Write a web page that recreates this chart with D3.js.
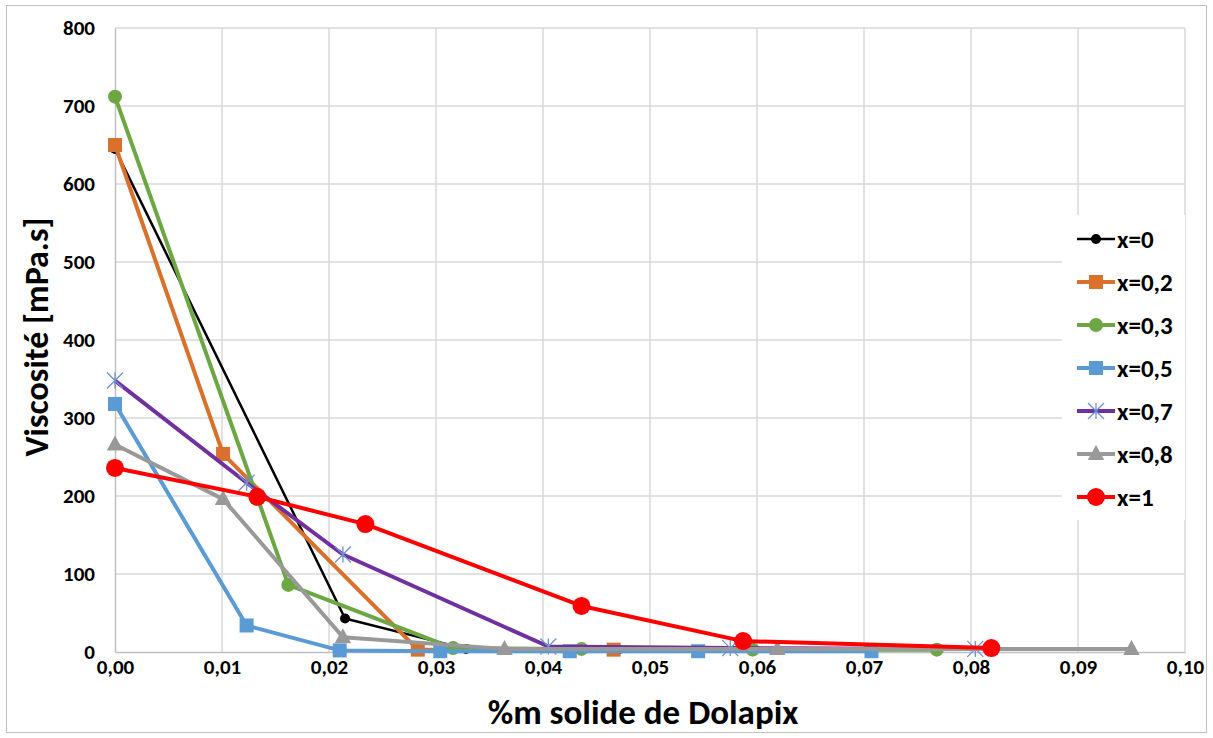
<!DOCTYPE html>
<html>
<head>
<meta charset="utf-8">
<script src="https://cdn.jsdelivr.net/npm/d3@7"></script>
<style>
  body { margin: 0; background: #fff; }
  text { font-family: Carlito, "Open Sans", "Liberation Sans", sans-serif; font-weight: bold; fill: #000; }
</style>
</head>
<body>
<script>
const width = 1213;
const height = 738;
const margin = { top: 28, right: 28, bottom: 86, left: 115 };

// data
const seriesNames = ["x=0", "x=0,2", "x=0,3", "x=0,5", "x=0,7", "x=0,8", "x=1"];
const xTicks = [0, 0.01, 0.02, 0.03, 0.04, 0.05, 0.06, 0.07, 0.08, 0.09, 0.10];
const yTicks = [0, 100, 200, 300, 400, 500, 600, 700, 800];

const dol0 = [0, 0.0215, 0.0328, 0.047];
const visc0 = [645, 43, 4, 3];
const dol02 = [0, 0.0101, 0.0283, 0.0466];
const visc02 = [650, 254, 3, 3];
const dol03 = [0, 0.0162, 0.0316, 0.0436, 0.0596, 0.0768];
const visc03 = [712, 86, 5, 4, 3, 3];
const dol05 = [0, 0.0123, 0.021, 0.0304, 0.0425, 0.0545, 0.0707];
const visc05 = [318, 34, 2, 1, 1, 1, 1];
const dol07 = [0, 0.0123, 0.0213, 0.0405, 0.0575, 0.0804];
const visc07 = [348, 217, 125, 7, 5, 4];
const dol08 = [0, 0.0101, 0.0213, 0.0364, 0.0619, 0.095];
const visc08 = [266, 196, 19, 4, 4, 4];
const dol1 = [0, 0.0133, 0.0234, 0.0436, 0.0587, 0.0819];
const visc1 = [236, 199, 164, 59, 14, 5];

const xs = [dol0, dol02, dol03, dol05, dol07, dol08, dol1];
const ys = [visc0, visc02, visc03, visc05, visc07, visc08, visc1];

const styles = [
  { color: "#000000", width: 2.5, marker: "circle", size: 5 },
  { color: "#D9702B", width: 4, marker: "square", size: 14 },
  { color: "#6DA744", width: 4, marker: "circle", size: 7 },
  { color: "#5B9BD5", width: 4, marker: "square", size: 14 },
  { color: "#7030A0", width: 4, marker: "star", size: 8, markerColor: "#6E8FD6" },
  { color: "#999999", width: 4, marker: "triangle", size: 15 },
  { color: "#FF0000", width: 4, marker: "circle", size: 9 }
];

const svg = d3.select("body")
    .append("svg")
    .attr("width", width)
    .attr("height", height);

// outer frame
svg.append("rect")
    .attr("x", 6.5).attr("y", 5.5)
    .attr("width", width - 13).attr("height", height - 11)
    .attr("fill", "none").attr("stroke", "#BFBFBF");

const xScale = d3.scaleLinear()
    .domain([0, 0.1])
    .range([margin.left, width - margin.right]);
const yScale = d3.scaleLinear()
    .domain([0, 800])
    .range([height - margin.bottom, margin.top]);

// grid
svg.append("g")
    .selectAll("line.vgrid")
    .data(xTicks.slice(1))
    .enter()
    .append("line")
    .attr("x1", d => xScale(d)).attr("x2", d => xScale(d))
    .attr("y1", yScale(0)).attr("y2", yScale(800))
    .attr("stroke", "#D9D9D9").attr("stroke-width", 1.5);
svg.append("g")
    .selectAll("line.hgrid")
    .data(yTicks.slice(1))
    .enter()
    .append("line")
    .attr("x1", xScale(0)).attr("x2", xScale(0.1))
    .attr("y1", d => yScale(d)).attr("y2", d => yScale(d))
    .attr("stroke", "#D9D9D9").attr("stroke-width", 1.5);

// axes
const fmt = d3.format(".2f");
const xAxis = d3.axisBottom(xScale).tickValues(xTicks).tickSize(0).tickPadding(7)
    .tickFormat(d => fmt(d).replace(".", ","));
const yAxis = d3.axisLeft(yScale).tickValues(yTicks).tickSize(0).tickPadding(20);

svg.append("g")
    .attr("transform", `translate(0, ${yScale(0)})`)
    .call(xAxis)
    .attr("font-size", 21)
    .attr("font-family", null)
    .call(g => g.select(".domain").attr("stroke", "#BFBFBF").attr("stroke-width", 1.5));
svg.append("g")
    .attr("transform", `translate(${xScale(0)}, 0)`)
    .call(yAxis)
    .attr("font-size", 21)
    .attr("font-family", null)
    .call(g => g.select(".domain").attr("stroke", "#BFBFBF").attr("stroke-width", 1.5));

// axis titles
svg.append("text")
    .attr("x", 643)
    .attr("y", 724)
    .attr("text-anchor", "middle")
    .style("font-size", "35px")
    .text("%m solide de Dolapix");
svg.append("text")
    .attr("transform", "translate(48, 337) rotate(-90)")
    .attr("text-anchor", "middle")
    .style("font-size", "34px")
    .text("Viscosité [mPa.s]");

// legend background
svg.append("rect")
    .attr("x", 1062).attr("y", 215)
    .attr("width", xScale(0.1) - 1062).attr("height", 305)
    .attr("fill", "#fff");

function drawMarker(g, st, x, y) {
  const c = st.markerColor || st.color;
  if (st.marker === "circle") {
    g.append("circle").attr("cx", x).attr("cy", y).attr("r", st.size).attr("fill", c);
  } else if (st.marker === "square") {
    g.append("rect").attr("x", x - st.size / 2).attr("y", y - st.size / 2)
      .attr("width", st.size).attr("height", st.size).attr("fill", c);
  } else if (st.marker === "triangle") {
    const s = st.size;
    g.append("path")
      .attr("d", `M${x},${y - s * 0.6}L${x + s * 0.55},${y + s * 0.4}L${x - s * 0.55},${y + s * 0.4}Z`)
      .attr("fill", c);
  } else if (st.marker === "star") {
    const s = st.size;
    g.append("path")
      .attr("d", `M${x - s},${y - s}L${x + s},${y + s}M${x - s},${y + s}L${x + s},${y - s}M${x},${y - s}L${x},${y + s}`)
      .attr("stroke", c).attr("stroke-width", 1.3).attr("fill", "none");
  }
}

const line = d3.line().x(d => xScale(d[0])).y(d => yScale(d[1]));

seriesNames.forEach((name, i) => {
  const st = styles[i];
  const pts = xs[i].map((x, j) => [x, ys[i][j]]);
  const g = svg.append("g");
  g.append("path")
    .datum(pts)
    .attr("d", line)
    .attr("fill", "none")
    .attr("stroke", st.color)
    .attr("stroke-width", st.width)
    .attr("stroke-linejoin", "round");
  pts.forEach(p => drawMarker(g, st, xScale(p[0]), yScale(p[1])));

  // legend entry
  const ly = 239 + i * 43;
  const lg = svg.append("g");
  lg.append("line")
    .attr("x1", 1077).attr("x2", 1115)
    .attr("y1", ly).attr("y2", ly)
    .attr("stroke", st.color).attr("stroke-width", st.width);
  drawMarker(lg, st, 1096, ly);
  lg.append("text")
    .attr("x", 1117).attr("y", ly + 9)
    .style("font-size", "25px")
    .text(name);
});
</script>
</body>
</html>
